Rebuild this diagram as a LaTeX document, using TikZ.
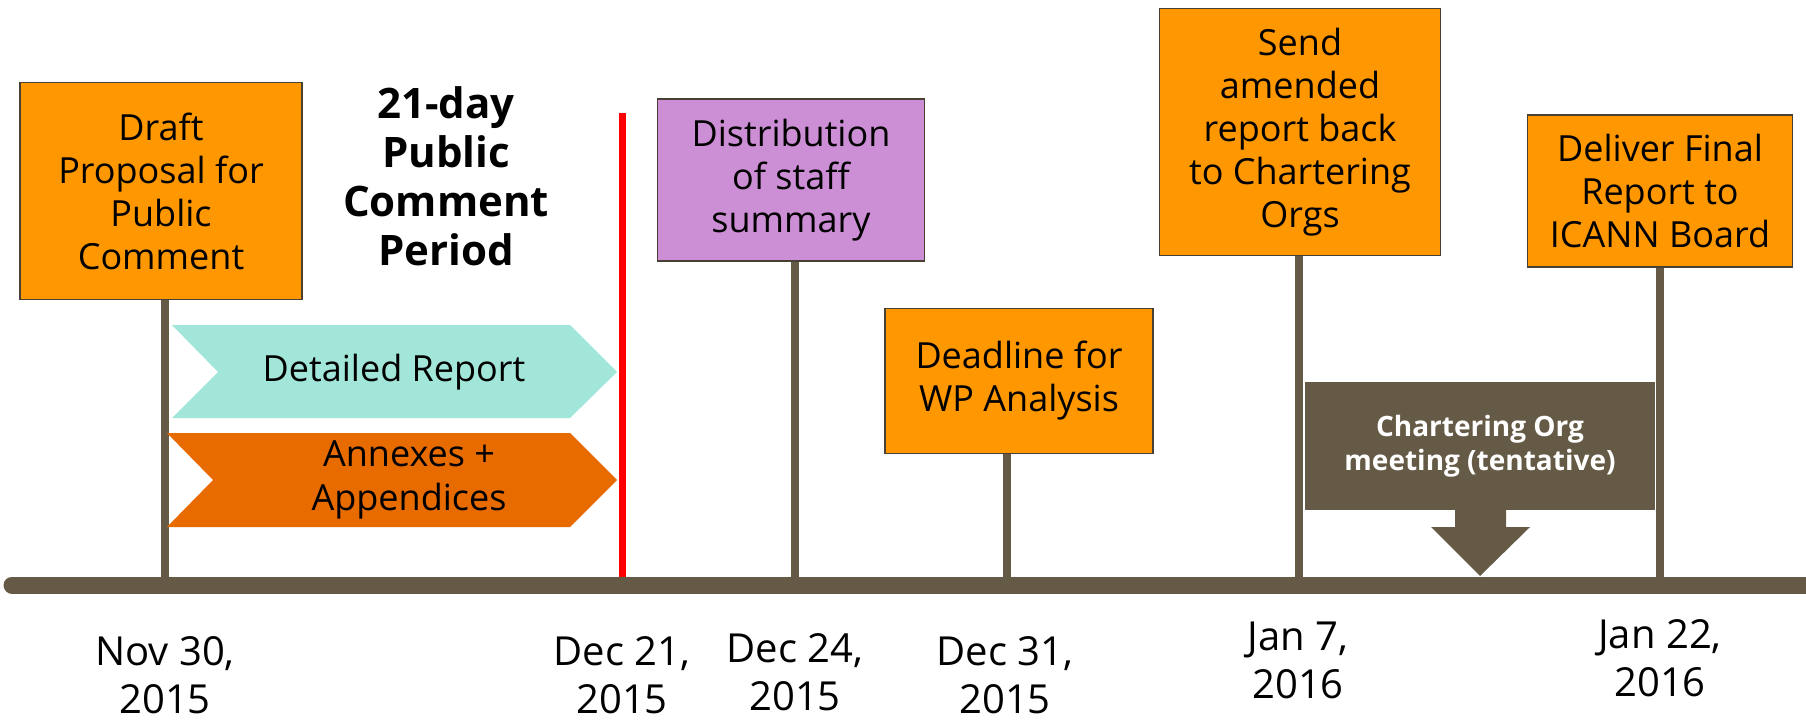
\documentclass[tikz,border=0pt]{standalone}
\usepackage{fontspec}
\setmainfont{Open Sans}
\usetikzlibrary{positioning}

\definecolor{evorange}{RGB}{255,152,0}
\definecolor{evlilac}{RGB}{204,142,212}
\definecolor{evmint}{RGB}{161,230,216}
\definecolor{evrust}{RGB}{232,107,0}
\definecolor{evbrown}{RGB}{101,90,69}
\definecolor{evedge}{RGB}{72,64,52}

\begin{document}
\begin{tikzpicture}[x=1pt, y=-1pt,
    eventbox/.style={draw=evedge, line width=1.5pt, fill=evorange, align=center,
      inner sep=0pt, font=\fontsize{36}{43}\selectfont},
    stemline/.style={draw=evbrown, line width=8pt},
    datelbl/.style={anchor=north, align=center, inner sep=0pt,
      font=\fontsize{40}{48}\selectfont},
    chevtext/.style={align=center, inner sep=0pt, font=\fontsize{36}{44}\selectfont}]

    \useasboundingbox (0,0) rectangle (1806,720);

    % Ticks on the timeline
    \coordinate (tNov30) at (165,585);
    \coordinate (tDec21) at (622,585);
    \coordinate (tDec24) at (795,585);
    \coordinate (tDec31) at (1007,585);
    \coordinate (tJan7) at (1299,585);
    \coordinate (tJan22) at (1660,585);
    \coordinate (tMeet) at (1480,576);
    \coordinate (redtop) at (622,113);

    % Event boxes
    \node[eventbox, minimum width=282pt, minimum height=217pt] (draft) at (161,191)
      {Draft\\Proposal for\\Public\\Comment};
    \node[eventbox, fill=evlilac, minimum width=267pt, minimum height=162pt] (staff) at (791,180)
      {Distribution\\of staff\\summary};
    \node[eventbox, minimum width=268pt, minimum height=145pt] (wpdead) at (1019,381)
      {Deadline for\\WP Analysis};
    \node[eventbox, minimum width=281pt, minimum height=247pt] (amend) at (1300,132)
      {Send\\amended\\report back\\to Chartering\\Orgs};
    \node[eventbox, minimum width=265pt, minimum height=152pt] (final) at (1660,191)
      {Deliver Final\\Report to\\ICANN Board};

    % Title of the comment period
    \node[anchor=north, align=center, inner sep=0pt,
      font=\bfseries\fontsize{42}{49}\selectfont] (period) at (446,86)
      {21-day\\Public\\Comment\\Period};

    % Stems
    \draw[stemline] (tNov30) -- (tNov30 |- draft.south);
    \draw[stemline] (tDec24) -- (tDec24 |- staff.south);
    \draw[stemline] (tDec31) -- (tDec31 |- wpdead.south);
    \draw[stemline] (tJan7) -- (tJan7 |- amend.south);
    \draw[stemline] (tJan22) -- (tJan22 |- final.south);

    % Chevrons
    \fill[evmint] (172,325) -- (570,325) -- (617,372) -- (570,418) -- (172,418) -- (218,372) -- cycle;
    \node[chevtext] (detail) at (394,372) {Detailed Report};
    \fill[evrust] (167,433) -- (570,433) -- (617,480) -- (570,527) -- (167,527) -- (213,480) -- cycle;
    \node[chevtext] (annex) at (409,480) {Annexes +\\Appendices};

    % End of comment period
    \draw[red, line width=7pt] (tDec21) -- (redtop);

    % Timeline
    \draw[evbrown, line width=17pt, line cap=round] (12,585) -- (1806,585);

    % Meeting box with arrow
    \node[fill=evbrown, text=white, align=center, inner sep=0pt,
      minimum width=350pt, minimum height=128pt,
      font=\bfseries\fontsize{28}{34}\selectfont] (meet) at (1480,446)
      {Chartering Org\\meeting (tentative)};
    \fill[evbrown] (1455,509) -- (1506,509) -- (1506,527) -- (1530,527) -- (tMeet)
      -- (1431,527) -- (1455,527) -- cycle;

    % Dates
    \node[datelbl] (dNov30) at (165,636) {Nov 30,\\2015};
    \node[datelbl] (dDec21) at (622,636) {Dec 21,\\2015};
    \node[datelbl] (dDec24) at (795,633) {Dec 24,\\2015};
    \node[datelbl] (dDec31) at (1005,636) {Dec 31,\\2015};
    \node[datelbl] (dJan7) at (1298,622) {Jan 7,\\2016};
    \node[datelbl] (dJan22) at (1660,619) {Jan 22,\\2016};
\end{tikzpicture}
\end{document}
